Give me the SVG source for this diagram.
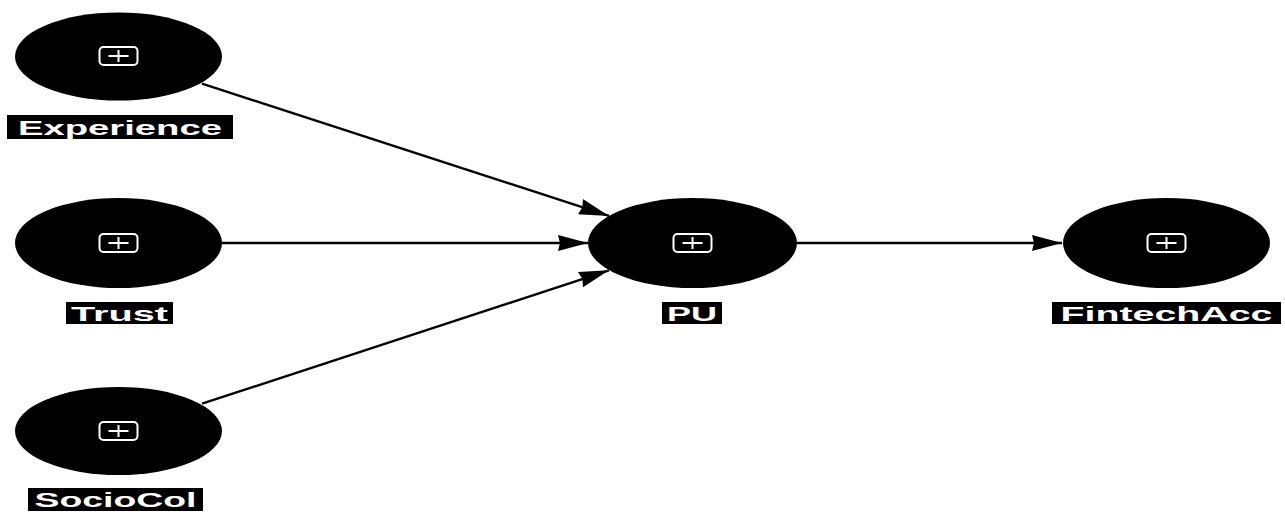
<svg xmlns="http://www.w3.org/2000/svg" xmlns:xlink="http://www.w3.org/1999/xlink" width="1285" height="512" viewBox="0 0 1285 512">
  <style>
    .node { fill: #000; }
    .icon { fill: none; stroke: #fff; stroke-width: 2; }
    .lbl-bg { fill: #000; }
    .lbl { fill: #fff; font-family: "Liberation Sans", Arial, sans-serif; font-weight: bold; font-size: 21px; text-anchor: middle; }
    .edge { stroke: #000; stroke-width: 2.4; fill: none; marker-end: url(#arrow); }
  </style>
  <defs>
    <marker id="arrow" markerUnits="userSpaceOnUse" markerWidth="30" markerHeight="16" refX="30" refY="8" orient="auto">
      <path d="M0,0 L30,8 L0,16 L2,8 z" fill="#000"/>
    </marker>
    <g id="expand">
      <rect class="icon" x="-19" y="-9" width="38" height="18" rx="4"/>
      <path class="icon" d="M-10,0 H10 M0,-6 V6"/>
    </g>
  </defs>
  <rect width="1285" height="512" fill="#fff"/>

  <g id="connectors">
    <line class="edge" x1="202" y1="83.6" x2="609" y2="215.9"/>
    <line class="edge" x1="222" y1="243" x2="588" y2="243"/>
    <line class="edge" x1="202" y1="403.7" x2="609" y2="270.3"/>
    <line class="edge" x1="797" y1="243" x2="1062" y2="243"/>
  </g>

  <g id="Experience">
    <ellipse class="node" cx="118.5" cy="56.5" rx="103.5" ry="44"/>
    <use xlink:href="#expand" x="118.5" y="56"/>
    <rect class="lbl-bg" x="7" y="115" width="226" height="24"/>
    <text class="lbl" x="120" y="135" textLength="204" lengthAdjust="spacingAndGlyphs">Experience</text>
  </g>

  <g id="Trust">
    <ellipse class="node" cx="118.5" cy="243" rx="103.5" ry="45"/>
    <use xlink:href="#expand" x="118.5" y="243"/>
    <rect class="lbl-bg" x="66" y="302" width="107" height="22"/>
    <text class="lbl" x="119.5" y="321" textLength="97" lengthAdjust="spacingAndGlyphs">Trust</text>
  </g>

  <g id="SocioCol">
    <ellipse class="node" cx="118.5" cy="431" rx="103.5" ry="44"/>
    <use xlink:href="#expand" x="118.5" y="431"/>
    <rect class="lbl-bg" x="28" y="488" width="175" height="23"/>
    <text class="lbl" x="115.5" y="507" textLength="162" lengthAdjust="spacingAndGlyphs">SocioCol</text>
  </g>

  <g id="PU">
    <ellipse class="node" cx="692.5" cy="243" rx="104.5" ry="45"/>
    <use xlink:href="#expand" x="692.5" y="243"/>
    <rect class="lbl-bg" x="662" y="302" width="60" height="22"/>
    <text class="lbl" x="692" y="321" textLength="50" lengthAdjust="spacingAndGlyphs">PU</text>
  </g>

  <g id="FintechAcc">
    <ellipse class="node" cx="1166.5" cy="243" rx="103.5" ry="45"/>
    <use xlink:href="#expand" x="1166.5" y="243"/>
    <rect class="lbl-bg" x="1052" y="302" width="229" height="22"/>
    <text class="lbl" x="1166.5" y="321" textLength="212" lengthAdjust="spacingAndGlyphs">FintechAcc</text>
  </g>
</svg>
